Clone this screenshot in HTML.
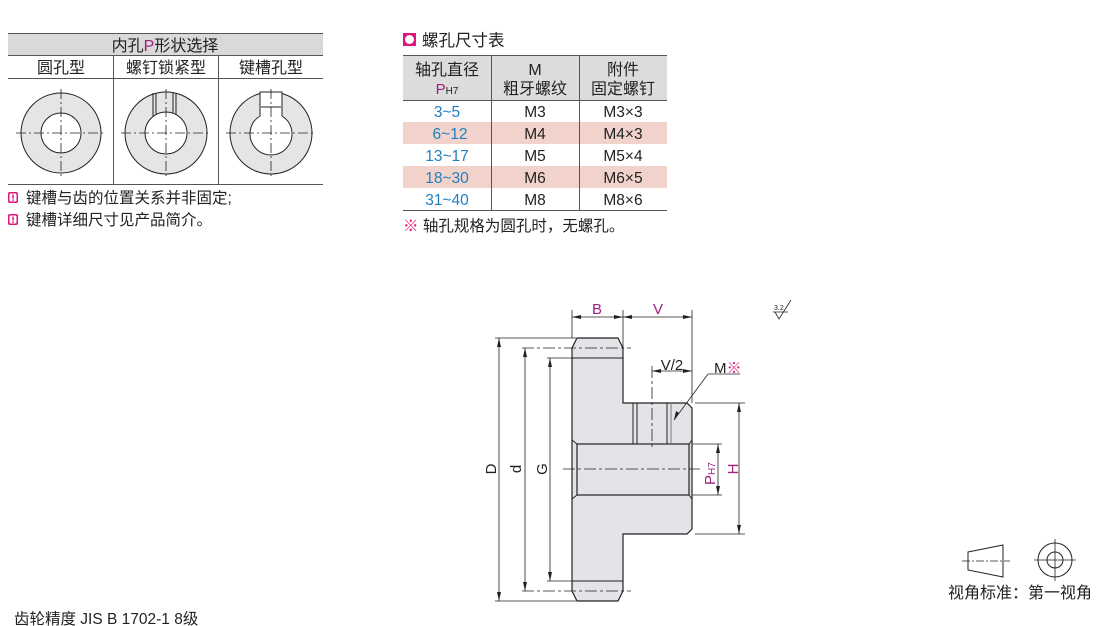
<!DOCTYPE html>
<html><head><meta charset="utf-8"><style>
body{margin:0;width:1110px;height:626px;background:#fff;overflow:hidden;font-family:"Liberation Sans","Noto Sans CJK SC",sans-serif;}
svg{position:absolute;left:0;top:0}
text{font-family:"Liberation Sans","Noto Sans CJK SC",sans-serif}
.p{fill:#a0207f}.b{fill:#1f7fc1}.k{fill:#e0157a}.w{fill:#fff}
</style></head><body>
<svg width="1110" height="626" viewBox="0 0 1110 626" xmlns="http://www.w3.org/2000/svg">
<g fill="#222">
<!-- Left table -->
<rect x="8" y="34" width="315" height="21" fill="#d9d9d9"/>
<line x1="8" y1="33.5" x2="323" y2="33.5" stroke="#555"/>
<line x1="8" y1="55.5" x2="323" y2="55.5" stroke="#555"/>
<line x1="8" y1="78.5" x2="323" y2="78.5" stroke="#555"/>
<line x1="8" y1="184.5" x2="323" y2="184.5" stroke="#555"/>
<line x1="113.5" y1="56" x2="113.5" y2="184" stroke="#555"/>
<line x1="218.5" y1="56" x2="218.5" y2="184" stroke="#555"/>
<text x="165" y="51" font-size="16" text-anchor="middle">内孔<tspan class="p">P</tspan>形状选择</text>
<text x="61" y="73" font-size="16" text-anchor="middle">圆孔型</text>
<text x="166" y="73" font-size="16" text-anchor="middle">螺钉锁紧型</text>
<text x="271" y="73" font-size="16" text-anchor="middle">键槽孔型</text>
<g stroke="#222" stroke-width="1">
<circle cx="61" cy="133" r="40" fill="#e5e5e8"/><circle cx="61" cy="133" r="20" fill="#fff"/>
<circle cx="166" cy="133" r="41" fill="#e5e5e8"/>
<line x1="153" y1="93" x2="153" y2="120"/><line x1="156" y1="93" x2="156" y2="120"/><line x1="173" y1="93" x2="173" y2="120"/><line x1="176" y1="93" x2="176" y2="120"/>
<circle cx="166" cy="133" r="21" fill="#fff"/>
<circle cx="271" cy="133" r="41" fill="#e5e5e8"/>
<path d="M260 116 A21 21 0 1 0 282 116 L282 92 L260 92 Z" fill="#fff"/>
<line x1="261" y1="107" x2="281" y2="107"/>
</g>
<g stroke="#222" stroke-width="0.8" stroke-dasharray="10,3,2,3">
<line x1="16" y1="133" x2="106" y2="133"/><line x1="61" y1="89" x2="61" y2="178"/>
<line x1="121" y1="133" x2="211" y2="133"/><line x1="166" y1="89" x2="166" y2="178"/>
<line x1="226" y1="133" x2="316" y2="133"/><line x1="271" y1="89" x2="271" y2="178"/>
</g>
<rect x="8" y="192" width="10" height="11" rx="2" fill="#e0157a"/><rect x="9.5" y="193.5" width="7" height="8" rx="1" fill="#fff"/><rect x="12.3" y="194.5" width="1.5" height="4" fill="#e0157a"/><rect x="12.3" y="199.3" width="1.5" height="1.5" fill="#e0157a"/>
<text x="26" y="203" font-size="15.5">键槽与齿的位置关系并非固定;</text>
<rect x="8" y="214" width="10" height="11" rx="2" fill="#e0157a"/><rect x="9.5" y="215.5" width="7" height="8" rx="1" fill="#fff"/><rect x="12.3" y="216.5" width="1.5" height="4" fill="#e0157a"/><rect x="12.3" y="221.3" width="1.5" height="1.5" fill="#e0157a"/>
<text x="26" y="225" font-size="15.5">键槽详细尺寸见产品简介。</text>
<!-- Right table -->
<rect x="403" y="33" width="13" height="13" fill="#e0157a"/><circle cx="409.5" cy="39.5" r="4.5" fill="#fff"/>
<text x="422" y="46" font-size="16.5">螺孔尺寸表</text>
<rect x="403" y="56" width="264" height="44" fill="#dcdcdc"/>
<rect x="403" y="122" width="264" height="22" fill="#f2d3cb"/>
<rect x="403" y="166" width="264" height="22" fill="#f2d3cb"/>
<g stroke="#555"><line x1="403" y1="55.5" x2="667" y2="55.5"/><line x1="403" y1="100.5" x2="667" y2="100.5"/><line x1="403" y1="210.5" x2="667" y2="210.5"/>
<line x1="491.5" y1="56" x2="491.5" y2="210"/><line x1="579.5" y1="56" x2="579.5" y2="210"/></g>
<g font-size="16" text-anchor="middle">
<text x="447" y="75">轴孔直径</text><text x="447" y="94"><tspan class="p" font-size="15">P</tspan><tspan font-size="10">H7</tspan></text>
<text x="535" y="75">M</text><text x="535" y="94">粗牙螺纹</text>
<text x="623" y="75">附件</text><text x="623" y="94">固定螺钉</text>
<g font-size="15.5">
<text x="447" y="117" class="b">3~5</text><text x="450" y="139" class="b">6~12</text><text x="447" y="161" class="b">13~17</text><text x="447" y="183" class="b">18~30</text><text x="447" y="205" class="b">31~40</text>
<text x="535" y="117">M3</text><text x="535" y="139">M4</text><text x="535" y="161">M5</text><text x="535" y="183">M6</text><text x="535" y="205">M8</text>
<text x="623" y="117">M3×3</text><text x="623" y="139">M4×3</text><text x="623" y="161">M5×4</text><text x="623" y="183">M6×5</text><text x="623" y="205">M8×6</text>
</g></g>
<text x="403" y="231" font-size="15.5"><tspan class="k">※</tspan> 轴孔规格为圆孔时，无螺孔。</text>
<!-- Gear drawing -->
<path d="M577 338 L618 338 L623 348 L623 403 L687 403 L692 408 L692 529 L687 534 L623 534 L623 591 L618 601 L577 601 L572 591 L572 348 Z" fill="#e4e4e8" stroke="#222" stroke-width="1.2"/>
<rect x="577" y="444" width="112" height="51" fill="#e4e4e8" stroke="#222" stroke-width="1.2"/>
<g stroke="#222" stroke-width="1">
<line x1="572" y1="440" x2="577" y2="444"/><line x1="572" y1="499" x2="577" y2="495"/>
<line x1="692" y1="440" x2="689" y2="444"/><line x1="692" y1="499" x2="689" y2="495"/>
<line x1="572" y1="358" x2="623" y2="358"/><line x1="572" y1="581" x2="623" y2="581"/>
<line x1="633" y1="403" x2="633" y2="444"/><line x1="637" y1="403" x2="637" y2="444"/>
<line x1="667" y1="403" x2="667" y2="444"/><line x1="671" y1="403" x2="671" y2="444" stroke="#777"/>
</g>
<g stroke="#222" stroke-width="0.8" stroke-dasharray="12,3,3,3">
<line x1="563" y1="469" x2="700" y2="469"/><line x1="652" y1="366" x2="652" y2="448"/>
<line x1="522" y1="348" x2="631" y2="348"/><line x1="522" y1="591" x2="631" y2="591"/>
</g>
<g stroke="#222" stroke-width="0.8" fill="none">
<line x1="495" y1="338" x2="576" y2="338"/><line x1="495" y1="601" x2="576" y2="601"/>
<line x1="547" y1="358" x2="572" y2="358"/><line x1="547" y1="581" x2="572" y2="581"/>
<line x1="499" y1="338" x2="499" y2="601"/><line x1="525" y1="348" x2="525" y2="591"/><line x1="550" y1="358" x2="550" y2="581"/>
<line x1="572" y1="310" x2="572" y2="338"/><line x1="623" y1="310" x2="623" y2="348"/><line x1="692" y1="310" x2="692" y2="403"/>
<line x1="572" y1="317" x2="692" y2="317"/>
<line x1="652" y1="371" x2="692" y2="371"/>
<line x1="695" y1="403" x2="745" y2="403"/><line x1="695" y1="534" x2="745" y2="534"/>
<line x1="739" y1="403" x2="739" y2="534"/>
<line x1="692" y1="444" x2="722" y2="444"/><line x1="692" y1="495" x2="722" y2="495"/>
<line x1="718" y1="444" x2="718" y2="495"/>
<line x1="708" y1="374" x2="674" y2="420"/><line x1="708" y1="374" x2="740" y2="374"/>
</g>
<path d="M499 338 l-2 9 h4z"/><path d="M499 601 l-2 -9 h4z"/>
<path d="M525 348 l-2 9 h4z"/><path d="M525 591 l-2 -9 h4z"/>
<path d="M550 358 l-2 9 h4z"/><path d="M550 581 l-2 -9 h4z"/>
<path d="M572 317 l9 -2 v4z"/><path d="M623 317 l-9 -2 v4z"/><path d="M623 317 l9 -2 v4z"/><path d="M692 317 l-9 -2 v4z"/>
<path d="M652 371 l9 -2 v4z"/><path d="M692 371 l-9 -2 v4z"/>
<path d="M739 403 l-2 9 h4z"/><path d="M739 534 l-2 -9 h4z"/>
<path d="M718 444 l-2 9 h4z"/><path d="M718 495 l-2 -9 h4z"/>
<path d="M674 420 l2 -9 l3 2z"/>
<text x="597" y="314" font-size="15" text-anchor="middle" class="p">B</text>
<text x="658" y="314" font-size="15" text-anchor="middle" class="p">V</text>
<text x="672" y="370" font-size="15" text-anchor="middle">V/2</text>
<text x="714" y="373" font-size="15">M<tspan class="k">※</tspan></text>
<text transform="translate(496,469) rotate(-90)" font-size="15" text-anchor="middle">D</text>
<text transform="translate(521,469) rotate(-90)" font-size="15" text-anchor="middle">d</text>
<text transform="translate(547,469) rotate(-90)" font-size="15" text-anchor="middle">G</text>
<text transform="translate(715,485) rotate(-90)" font-size="15" class="p">P<tspan font-size="10" class="p">H7</tspan></text>
<text transform="translate(738,469) rotate(-90)" font-size="15" text-anchor="middle" class="p">H</text>
<text x="774" y="310" font-size="7">3.2</text>
<path d="M773 312 L788 312 M775 312 L779 319 L791 300" fill="none" stroke="#222" stroke-width="0.8"/>
<!-- view symbols -->
<path d="M968 552 L1003 545 L1003 577 L968 570 Z" fill="none" stroke="#222"/>
<line x1="962" y1="561" x2="1010" y2="561" stroke="#222" stroke-width="0.8" stroke-dasharray="8,2,2,2"/>
<circle cx="1055" cy="560" r="17" fill="none" stroke="#222"/><circle cx="1055" cy="560" r="8" fill="none" stroke="#222"/>
<line x1="1034" y1="560" x2="1076" y2="560" stroke="#222" stroke-width="0.8"/><line x1="1055" y1="539" x2="1055" y2="581" stroke="#222" stroke-width="0.8"/>
<text x="948" y="598" font-size="16">视角标准：第一视角</text>
<text x="14" y="624" font-size="15.5">齿轮精度 JIS B 1702-1 8级</text>
</g>
</svg>
</body></html>
